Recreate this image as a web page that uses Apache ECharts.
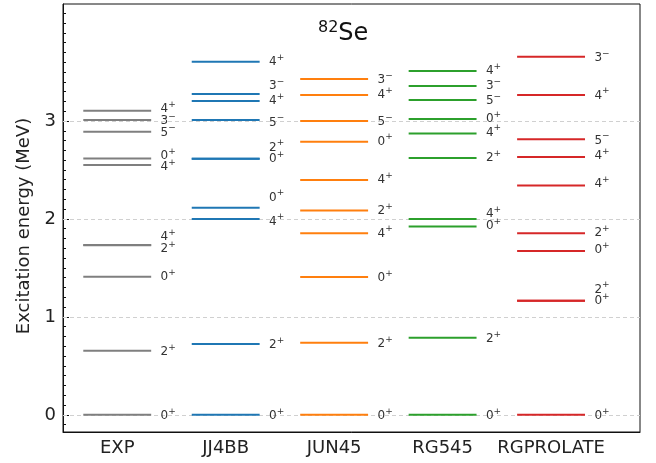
<!DOCTYPE html>
<html><head><meta charset="utf-8">
<script src="https://cdn.jsdelivr.net/npm/echarts@6/dist/echarts.min.js"></script>
<style>html,body{margin:0;padding:0;background:#fff}#c{width:656px;height:463px}</style>
</head><body><div id="c"></div>
<script>
// ---- data (MeV) ----
const models = ['EXP', 'JJ4BB', 'JUN45', 'RG545', 'RGPROLATE'];

const expEnergy   = [0, 0.654, 1.410, 1.731, 1.735, 2.551, 2.616, 2.891, 3.010, 3.105];
const expSpin     = ['0⁺', '2⁺', '0⁺', '2⁺', '4⁺', '4⁺', '0⁺', '5⁻', '3⁻', '4⁺'];
const expLabelAt  = [0, 0.654, 1.420, 1.705, 1.827, 2.541, 2.653, 2.891, 3.010, 3.133];

const jj4bbEnergy  = [0, 0.724, 2.000, 2.115, 2.615, 2.615, 3.010, 3.204, 3.276, 3.605];
const jj4bbSpin    = ['0⁺', '2⁺', '4⁺', '0⁺', '0⁺', '2⁺', '5⁻', '4⁺', '3⁻', '4⁺'];
const jj4bbLabelAt = [0, 0.724, 1.985, 2.228, 2.622, 2.738, 2.995, 3.214, 3.367, 3.615];

const jun45Energy  = [0, 0.735, 1.408, 1.854, 2.085, 2.398, 2.789, 3.000, 3.265, 3.429];
const jun45Spin    = ['0⁺', '2⁺', '0⁺', '4⁺', '2⁺', '4⁺', '0⁺', '5⁻', '4⁺', '3⁻'];
const jun45LabelAt = [0, 0.735, 1.408, 1.860, 2.090, 2.410, 2.800, 3.000, 3.275, 3.429];

const rg545Energy  = [0, 0.786, 1.922, 2.000, 2.622, 2.871, 3.020, 3.214, 3.357, 3.510];
const rg545Spin    = ['0⁺', '2⁺', '0⁺', '4⁺', '2⁺', '4⁺', '0⁺', '5⁻', '3⁻', '4⁺'];
const rg545LabelAt = [0, 0.786, 1.935, 2.062, 2.635, 2.891, 3.028, 3.214, 3.367, 3.520];

const rgprolateEnergy  = [0, 1.164, 1.164, 1.673, 1.854, 2.340, 2.633, 2.813, 3.265, 3.656];
const rgprolateSpin    = ['0⁺', '0⁺', '2⁺', '0⁺', '2⁺', '4⁺', '4⁺', '5⁻', '4⁺', '3⁻'];
const rgprolateLabelAt = [0, 1.170, 1.290, 1.690, 1.870, 2.370, 2.650, 2.810, 3.270, 3.650];

const yTickValues = [0, 1, 2, 3];
const xTickValues = [0, 1, 2, 3, 4];

// ---- styles ----
const colors = ['#7f7f7f', '#1f77b4', '#ff7f0e', '#2ca02c', '#d62728'];
const FONT = 'DejaVu Sans';
const HALF = 0.313;
const LABEL_DX = 0.40;

const columns = [
  [expEnergy, expSpin, expLabelAt],
  [jj4bbEnergy, jj4bbSpin, jj4bbLabelAt],
  [jun45Energy, jun45Spin, jun45LabelAt],
  [rg545Energy, rg545Spin, rg545LabelAt],
  [rgprolateEnergy, rgprolateSpin, rgprolateLabelAt]
];

function spinRich(s) {
  const sign = s.slice(1) === '⁺' ? '+' : '−';
  return '{d|' + s[0] + '}{s|' + sign + '}';
}
const spinRichStyle = {
  d: { fontFamily: FONT, fontSize: 12, fill: '#333', lineHeight: 12 },
  s: { fontFamily: FONT, fontSize: 9, fill: '#333', lineHeight: 9, padding: [0, 0, 9, 0] }
};

const minorTicks = [];
for (let k = -1; k <= 41; k++) minorTicks.push(+(k * 0.1).toFixed(1));

const series = [{
  type: 'line', data: [], z: 1, silent: true,
  markLine: {
    silent: true, symbol: 'none', animation: false, z: 1,
    label: { show: false },
    lineStyle: { type: [4, 3], color: '#d0d0d0', width: 1 },
    data: yTickValues.map(v => ({ yAxis: v }))
  }
}];

columns.forEach((col, ci) => {
  const [en, sp, la] = col;
  series.push({
    type: 'custom', name: models[ci], z: 10, silent: true, animation: false,
    clip: false,
    data: en.map((e, i) => [ci, e, la[i]]),
    renderItem: (params, api) => {
      const x = api.value(0), e = api.value(1), le = api.value(2);
      const p1 = api.coord([x - HALF, e]);
      const p2 = api.coord([x + HALF, e]);
      const pl = api.coord([x + LABEL_DX, le]);
      return {
        type: 'group', children: [
          { type: 'line', shape: { x1: p1[0], y1: p1[1], x2: p2[0], y2: p2[1] },
            style: { stroke: colors[ci], lineWidth: 2 } },
          { type: 'text', x: pl[0], y: pl[1] + 1,
            style: { text: spinRich(sp[params.dataIndex]), rich: spinRichStyle,
                     align: 'left', verticalAlign: 'middle' } }
        ]
      };
    }
  });
});

const chart = echarts.init(document.getElementById('c'), null, { renderer: 'canvas' });
chart.setOption({
  animation: false,
  backgroundColor: '#fff',
  title: {
    text: '{a|82}{b|Se}', left: 313, top: 15,
    textStyle: {
      rich: {
        a: { fontFamily: FONT, fontSize: 16, fontWeight: 'normal', color: '#111', lineHeight: 16, padding: [0, 0, 12, 0] },
        b: { fontFamily: FONT, fontSize: 24, fontWeight: 'normal', color: '#111', lineHeight: 28 }
      }
    }
  },
  grid: { left: 63, right: 16, top: 4, bottom: 31, show: true, borderColor: '#111', borderWidth: 1 },
  xAxis: {
    type: 'value', min: -0.5, max: 4.82,
    axisLine: { show: true, onZero: false, lineStyle: { color: '#111', width: 1 } },
    axisTick: { show: false },
    splitLine: { show: false },
    axisLabel: {
      customValues: xTickValues, margin: 7,
      formatter: v => models[Math.round(v)],
      fontFamily: FONT, fontSize: 18, color: '#222'
    }
  },
  yAxis: [{
    type: 'value', min: -0.175, max: 4.194, position: 'left',
    name: 'Excitation energy (MeV)', nameLocation: 'middle', nameGap: 27,
    nameTextStyle: { fontFamily: FONT, fontSize: 18, color: '#222', padding: [0, 16, 0, 0] },
    axisLine: { show: true, onZero: false, lineStyle: { color: '#111', width: 1 } },
    axisTick: { show: true, inside: true, length: 6, customValues: yTickValues, lineStyle: { color: '#111' } },
    axisLabel: { customValues: yTickValues, margin: 7, fontFamily: FONT, fontSize: 18, color: '#222' },
    splitLine: { show: false }
  }, {
    type: 'value', min: -0.175, max: 4.194, position: 'left',
    axisLine: { show: false, onZero: false },
    axisTick: { show: true, inside: true, length: 3, customValues: minorTicks, lineStyle: { color: '#111' } },
    axisLabel: { show: false },
    splitLine: { show: false }
  }],
  series: series
});
</script>
</body></html>
